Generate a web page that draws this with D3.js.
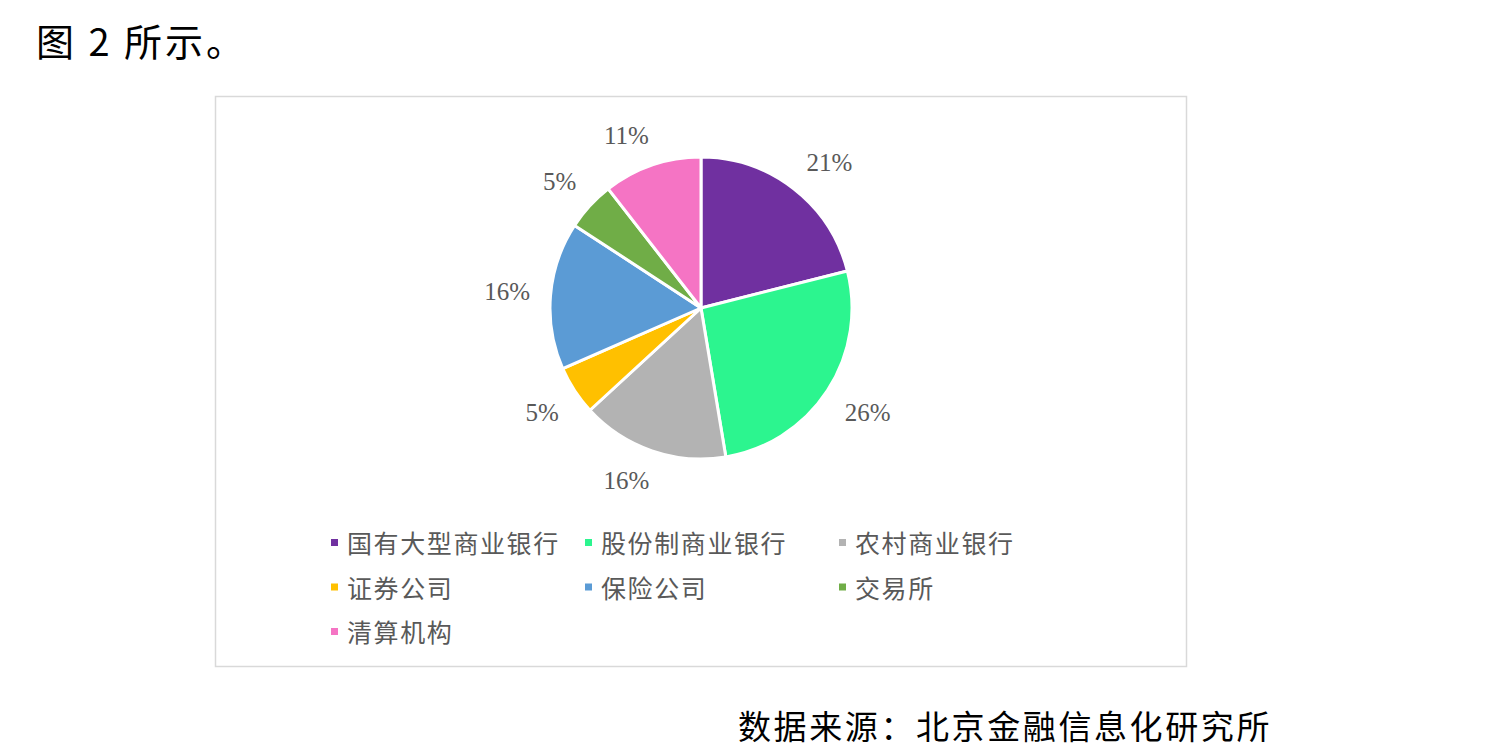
<!DOCTYPE html>
<html>
<head>
<meta charset="utf-8">
<script src="https://cdn.jsdelivr.net/npm/d3@7"></script>
<style>
  body { margin: 0; background: #fff; }
  svg { display: block; }
</style>
</head>
<body>
<svg width="1486" height="749"></svg>
<script>
// 机构类型 与 数量（占比由数量换算）
const categories = ['国有大型商业银行', '股份制商业银行', '农村商业银行', '证券公司', '保险公司', '交易所', '清算机构']
const counts = [4, 5, 3, 1, 3, 1, 2]
const colors = ['#7030a0', '#2cf58f', '#b3b3b3', '#ffc000', '#5b9bd5', '#70ad47', '#f574c4']

const svg = d3.select('svg'),
  cx = 701,
  cy = 308,
  radius = 151,
  total = d3.sum(counts),
  fmt = d3.format('.0%')

// 正文标题 / 来源
svg.append('text')
  .attr('x', 36).attr('y', 56)
  .attr('font-family', '"Noto Sans CJK SC", sans-serif')
  .attr('font-size', 38)
  .attr('fill', '#000')
  .attr('letter-spacing', 3)
  .text('图 2 所示。')

svg.append('text')
  .attr('x', 738).attr('y', 739)
  .attr('font-family', '"Noto Sans CJK SC", sans-serif')
  .attr('font-size', 33)
  .attr('letter-spacing', 2.6)
  .attr('fill', '#000')
  .text('数据来源：北京金融信息化研究所')

// 图表边框
svg.append('rect')
  .attr('x', 215.5).attr('y', 96.5)
  .attr('width', 971).attr('height', 570)
  .attr('fill', '#fff')
  .attr('stroke', '#d9d9d9')
  .attr('stroke-width', 1.5)

const pie = d3.pie().sort(null).value(d => d)
const arc = d3.arc().innerRadius(0).outerRadius(radius)
const arcs = pie(counts)

const g = svg.append('g').attr('transform', `translate(${cx}, ${cy})`)

g.selectAll('path')
  .data(arcs)
  .join('path')
  .attr('d', arc)
  .attr('fill', (d, i) => colors[i])
  .attr('stroke', '#fff')
  .attr('stroke-width', 3)
  .attr('stroke-linejoin', 'round')

// 数据标签：放在扇区外侧，标签框贴近圆周
const labelR = radius + 20
const clamp = v => Math.max(-1, Math.min(1, v))
g.selectAll('text.lbl')
  .data(arcs)
  .join('text')
  .attr('class', 'lbl')
  .each(function (d) {
    const a = (d.startAngle + d.endAngle) / 2,
      dx = Math.sin(a),
      dy = -Math.cos(a),
      txt = fmt(d.value / total),
      hw = txt.length * 7.8,
      hh = 11
    d3.select(this)
      .attr('x', dx * labelR + hw * clamp(dx * 2.5))
      .attr('y', dy * labelR + hh * clamp(dy * 2.5))
      .text(txt)
  })
  .attr('text-anchor', 'middle')
  .attr('dominant-baseline', 'central')
  .attr('font-family', '"Liberation Serif", "Times New Roman", serif')
  .attr('font-size', 25)
  .attr('fill', '#595959')

// 图例
const legend = svg.append('g')
  .selectAll('g')
  .data(categories)
  .join('g')
  .attr('transform', (d, i) => `translate(${331 + (i % 3) * 254}, ${543 + Math.floor(i / 3) * 44.5})`)

legend.append('rect')
  .attr('x', 0).attr('y', -4)
  .attr('width', 7).attr('height', 7)
  .attr('fill', (d, i) => colors[i])

legend.append('text')
  .attr('x', 16).attr('y', -1)
  .attr('dominant-baseline', 'central')
  .attr('font-family', '"Noto Sans CJK SC", sans-serif')
  .attr('font-size', 25)
  .attr('letter-spacing', 1.6)
  .attr('fill', '#595959')
  .text(d => d)
</script>
</body>
</html>
